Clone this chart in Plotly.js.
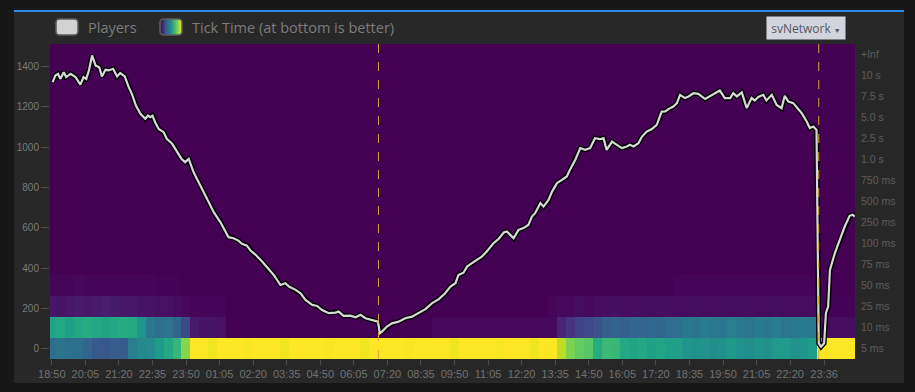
<!DOCTYPE html>
<html><head><meta charset="utf-8">
<script src="https://cdn.plot.ly/plotly-3.0.1.min.js"></script>
<style>
html,body{margin:0;padding:0;background:#171717;width:915px;height:392px;overflow:hidden}
#panel{position:absolute;left:14px;top:10px;width:890px;height:371px;background:#282828;border-top:2px solid #2d8ae6}
#chart{width:890px;height:371px}
</style></head><body>
<div id="panel"><div id="chart"></div></div>
<script>
// ---- data ----
const bucketLabels = ['5 ms','10 ms','25 ms','50 ms','75 ms','100 ms','250 ms','500 ms','750 ms','1.0 s','2.5 s','5.0 s','7.5 s','10 s','+Inf'];

// x tick positions (minutes since 18:50 on day 1) and labels
const xTickMinutes = [0,75,150,225,300,375,450,525,600,675,750,825,900,975,1050,1125,1200,1275,1350,1425,1500,1575,1650,1726];
const xTickLabels = ['18:50','20:05','21:20','22:35','23:50','01:05','02:20','03:35','04:50','06:05','07:20','08:35','09:50','11:05','12:20','13:35','14:50','16:05','17:20','18:35','19:50','21:05','22:20','23:36'];

const playerTicks = [0,200,400,600,800,1000,1200,1400];

const playerMinutes = [2,8,14,19,27,32,42,53,64,71,77,83,90,98,106,112,120,127,137,146,153,163,172,179,188,198,209,215,220,225,231,239,250,257,269,280,290,298,306,317,328,339,350,362,377,388,395,406,417,425,436,444,455,470,485,496,511,522,530,545,556,567,582,593,604,619,634,641,652,667,679,690,701,716,729,733,738,749,760,775,790,805,820,835,850,865,879,891,902,909,920,928,939,950,961,972,987,998,1010,1017,1032,1043,1054,1065,1073,1080,1092,1099,1110,1118,1129,1140,1151,1158,1170,1181,1192,1203,1214,1225,1233,1240,1252,1263,1274,1285,1292,1300,1311,1319,1330,1341,1352,1363,1371,1378,1389,1397,1404,1415,1423,1434,1445,1460,1475,1493,1504,1516,1523,1531,1542,1553,1564,1571,1579,1590,1597,1609,1620,1631,1638,1646,1657,1664,1676,1687,1694,1702,1709,1714,1719,1726,1730,1735,1739,1750,1761,1772,1783,1790,1794];
const players = [1323,1356,1364,1339,1372,1348,1364,1348,1311,1348,1339,1381,1455,1405,1397,1351,1384,1381,1389,1351,1368,1351,1298,1265,1207,1166,1141,1157,1149,1157,1124,1091,1075,1042,1017,976,942,926,942,876,827,785,728,678,628,579,554,549,537,521,512,488,468,433,392,367,317,326,309,293,276,243,218,213,193,177,180,185,164,165,157,169,152,144,135,78,86,111,127,135,152,160,177,197,227,247,276,309,326,367,378,408,425,441,458,483,524,544,577,582,549,590,599,615,656,673,723,706,739,780,822,838,855,888,938,996,987,996,1045,1040,1045,987,1028,1012,996,1004,1012,1004,1020,1053,1078,1090,1111,1177,1178,1189,1202,1219,1260,1244,1252,1268,1265,1239,1260,1281,1244,1244,1268,1252,1272,1194,1244,1232,1249,1260,1232,1260,1210,1194,1255,1227,1219,1202,1169,1128,1095,1103,1086,28,11,28,177,210,392,475,541,607,660,665,656];

const restartMinutes = [730, 1714];

// heatmap columns every 20 minutes
const heatMinutes = [0,20,40,60,80,100,120,140,160,180,200,220,240,260,280,300,320,340,360,380,400,420,440,460,480,500,520,540,560,580,600,620,640,660,680,700,720,740,760,780,800,820,840,860,880,900,920,940,960,980,1000,1020,1040,1060,1080,1100,1120,1140,1160,1180,1200,1220,1240,1260,1280,1300,1320,1340,1360,1380,1400,1420,1440,1460,1480,1500,1520,1540,1560,1580,1600,1620,1640,1660,1680,1700,1720,1740,1760,1780,1800];
const z5ms = [0.36,0.38,0.37,0.36,0.33,0.28,0.27,0.29,0.28,0.42,0.47,0.48,0.55,0.60,0.66,0.82,
  1,1,0.98,1,1,1,0.99,1,1,1,0.98,1,1,1,1,0.99,1,1,1,0.98,1,1,1,1,0.99,1,1,1,1,0.98,1,1,1,1,0.99,1,1,1,0.98,1,1,
  0.90,0.80,0.76,0.74,0.62,0.68,0.67,0.60,0.58,0.60,0.57,0.58,0.56,0.57,
  0.52,0.50,0.51,0.49,0.50,0.53,0.50,0.49,0.52,0.50,0.53,0.54,0.51,0.52,0.55,
  1,1,1,1,1];
const z10ms = [0.58,0.60,0.57,0.60,0.62,0.60,0.58,0.60,0.62,0.60,0.52,0.40,0.37,0.38,0.32,0.22,0.07,0.05,0.05,0.04,
  0,0,0,0,0,0,0,0,0,0,0,0,0,0,0,0,0,0,0,0,0,0,0,
  0.02,0.02,0.02,0.02,0.02,0.02,0.02,0.02,0.02,0.02,0.02,0.02,0.02,0.02,
  0.10,0.15,0.20,0.22,0.25,0.30,0.32,0.30,0.33,0.32,0.34,0.33,0.35,0.36,
  0.40,0.38,0.41,0.40,0.39,0.42,0.40,0.38,0.41,0.40,0.42,0.39,0.40,0.41,0.40,
  0.03,0.03,0.03,0.03,0.03];
const z25ms = [0.06,0.05,0.06,0.07,0.06,0.07,0.08,0.07,0.06,0.06,0.05,0.05,0.04,0.04,0.03,0.02,0.01,0.01,0.01,0.01,
  0,0,0,0,0,0,0,0,0,0,0,0,0,0,0,0,0,0,0,0,0,0,0,0,0,0,0,0,0,0,0,0,0,0,0,0,
  0.01,
  0.02,0.02,0.03,0.02,0.03,0.03,0.035,0.03,0.03,0.035,0.03,0.03,0.035,0.03,0.03,0.035,0.03,0.03,0.035,0.03,0.03,0.035,0.03,0.03,0.035,0.03,0.03,0.03,0.03,
  0.005,0.005,0.005,0.005,0.005];
const z50ms = [0.015,0.01,0.015,0.02,0.015,0.01,0.015,0.01,0.01,0.01,0.01,0.015,0.005,0.005,0.005,
  0,0,0,0,0,0,0,0,0,0,0,0,0,0,0,0,0,0,0,0,0,0,0,0,0,0,0,0,0,0,0,0,0,0,0,0,0,0,0,0,0,0,0,0,0,0,0,0,0,0,0,0,0,0,0,
  0.01,0.01,0.01,0.01,0.01,0.01,0.01,0.01,0.01,0.01,0.01,0.01,0.01,0.01,0.01,0.01,
  0,0,0,0,0];
const zEmptyRow = heatMinutes.map(() => 0);

// ---- geometry helpers (page px -> paper) ----
const W = 890, H = 371, M = {l:36, r:49, t:32, b:24};
const PW = W - M.l - M.r, PH = H - M.t - M.b;
const OX = 14, OY = 12;
const fx = x => (x - OX - M.l) / PW;
const fy = y => (OY + M.t + PH - y) / PH;

const zRows = [z5ms, z10ms, z25ms, z50ms];
while (zRows.length < bucketLabels.length) zRows.push(zEmptyRow);

const traces = [
  {type:'heatmap', x:heatMinutes, y:bucketLabels, z:zRows, colorscale:'Viridis', zmin:0, zmax:1,
   showscale:false, hoverinfo:'skip', xaxis:'x', yaxis:'y'},
  {type:'scatter', mode:'lines', x:playerMinutes, y:players, yaxis:'y2', line:{color:'#000', width:5}, hoverinfo:'skip', showlegend:false},
  {type:'scatter', mode:'lines', x:playerMinutes, y:players, yaxis:'y2', line:{color:'#d8d8d8', width:2.2}, name:'Players', showlegend:false}
];

const tickFont = 'Liberation Sans, Arial, sans-serif';
const sw1 = "<svg xmlns='http://www.w3.org/2000/svg' width='24' height='18'><rect x='1' y='1' width='22' height='16' rx='3.5' fill='#d2d2d2' stroke='#5c5c5c' stroke-width='1.6'/></svg>";
const sw2 = "<svg xmlns='http://www.w3.org/2000/svg' width='24' height='18'><defs><linearGradient id='g' x1='0' x2='1' y1='0' y2='0'><stop offset='0' stop-color='#440154'/><stop offset='0.25' stop-color='#3b528b'/><stop offset='0.5' stop-color='#21918c'/><stop offset='0.75' stop-color='#5ec962'/><stop offset='1' stop-color='#fde725'/></linearGradient></defs><rect x='1' y='1' width='22' height='16' rx='3.5' fill='url(#g)' stroke='#5c5c5c' stroke-width='1.6'/></svg>";
const uri = s => 'data:image/svg+xml;charset=utf-8,' + encodeURIComponent(s);

const layout = {
  width:W, height:H, margin:M,
  paper_bgcolor:'#282828', plot_bgcolor:'#440154',
  showlegend:false,
  xaxis:{range:[-4,1795], tickvals:xTickMinutes, ticktext:xTickLabels, ticks:'outside', ticklen:5, tickcolor:'#4e4e4e',
         showgrid:false, zeroline:false, showline:false, tickfont:{family:tickFont, size:11, color:'#707070'}, fixedrange:true},
  yaxis:{type:'category', categoryorder:'array', categoryarray:bucketLabels, range:[-0.5,14.5], side:'right',
         showgrid:false, zeroline:false, ticks:'', ticklabelstandoff:5, tickfont:{family:tickFont, size:10.5, color:'#5c5c5c'}, fixedrange:true},
  yaxis2:{overlaying:'y', side:'left', range:[-50,1512], tickvals:playerTicks, ticks:'outside', ticklen:8, tickcolor:'#4e4e4e',
          showgrid:false, zeroline:false, showline:false, tickfont:{family:tickFont, size:10, color:'#7a7a7a'}, fixedrange:true},
  shapes: restartMinutes.map(t => ({type:'line', xref:'x', yref:'paper', x0:t, x1:t, y0:0, y1:1, layer:'above',
           line:{color:'#d9a62e', width:1, dash:'dash'}})),
  images:[
    {source:uri(sw1), xref:'paper', yref:'paper', x:fx(55), y:fy(18), sizex:24/PW, sizey:18/PH, xanchor:'left', yanchor:'top', sizing:'stretch', layer:'above'},
    {source:uri(sw2), xref:'paper', yref:'paper', x:fx(159), y:fy(18), sizex:24/PW, sizey:18/PH, xanchor:'left', yanchor:'top', sizing:'stretch', layer:'above'}
  ],
  annotations:[
    {text:'Players', xref:'paper', yref:'paper', x:fx(86), y:fy(28), xanchor:'left', yanchor:'middle', showarrow:false,
     font:{family:'Open Sans, sans-serif', size:14.5, color:'#7c7c7c'}},
    {text:'Tick Time (at bottom is better)', xref:'paper', yref:'paper', x:fx(190), y:fy(28), xanchor:'left', yanchor:'middle', showarrow:false,
     font:{family:'Open Sans, sans-serif', size:14.5, color:'#7c7c7c'}},
    {text:"svNetwork <span style='font-size:7px'>▼</span>", xref:'paper', yref:'paper', x:fx(806), y:fy(28.5), xanchor:'center', yanchor:'middle',
     showarrow:false, width:74, height:18, borderpad:2, bgcolor:'#d3d5dd', align:'center',
     font:{family:'Open Sans, sans-serif', size:12, color:'#55555f'}}
  ]
};

Plotly.newPlot('chart', traces, layout, {displayModeBar:false, staticPlot:true});
</script></body></html>
